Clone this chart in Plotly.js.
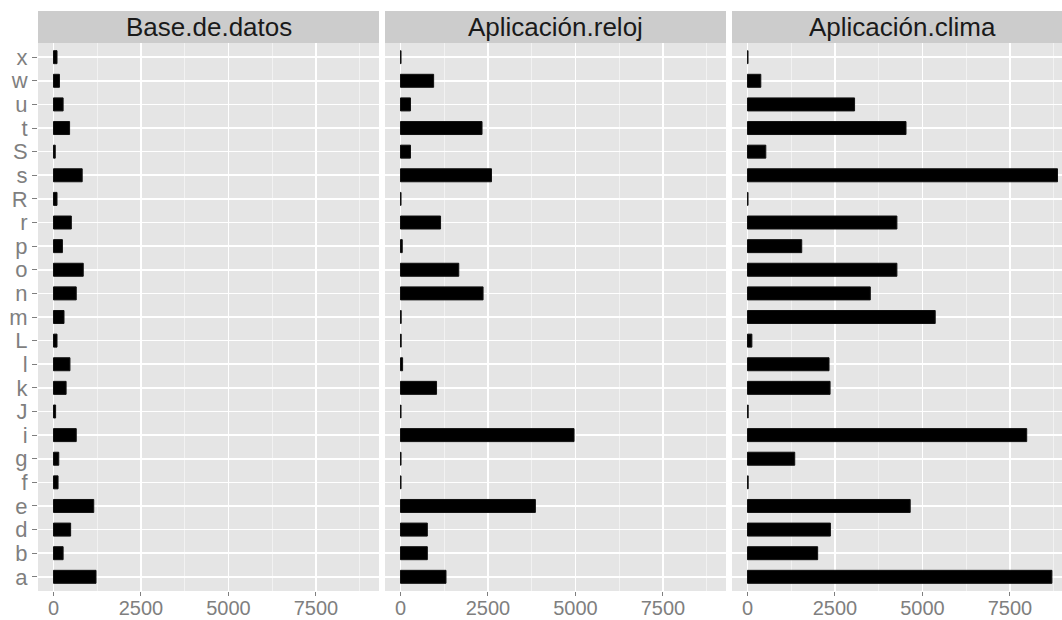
<!DOCTYPE html>
<html>
<head>
<meta charset="utf-8">
<script src="https://cdn.plot.ly/plotly-3.0.1.min.js"></script>
<style>html,body{margin:0;padding:0;background:#fff;overflow:hidden;}</style>
</head>
<body>
<div id="chart" style="width:1062px;height:620px;"></div>
<script>
const categories = ['a','b','d','e','f','g','i','J','k','l','L','m','n','o','p','r','R','s','S','t','u','w','x'];
const panelTitles = ['Base.de.datos', 'Aplicación.reloj', 'Aplicación.clima'];
const baseDeDatos = [1215, 275, 490, 1150, 130, 150, 650, 60, 360, 470, 100, 300, 650, 850, 255, 510, 100, 820, 50, 460, 275, 170, 100];
const aplicacionReloj = [1300, 767, 767, 3855, 15, 15, 4960, 15, 1030, 60, 20, 20, 2360, 1665, 50, 1145, 15, 2600, 285, 2330, 285, 947, 15];
const aplicacionClima = [8700, 2005, 2370, 4650, 20, 1350, 7980, 20, 2360, 2330, 125, 5365, 3510, 4270, 1550, 4270, 15, 8860, 523, 4530, 3060, 380, 15];
const xTicks = [0, 2500, 5000, 7500];
const xMinor = [1250, 3750, 6250, 8750];

const series = [baseDeDatos, aplicacionReloj, aplicacionClima];
const FONT = 'Liberation Sans, Arial, sans-serif';
const GREY = '#7f7f7f';

const traces = series.map((vals, i) => ({
  type: 'bar',
  orientation: 'h',
  x: vals,
  y: categories,
  xaxis: i === 0 ? 'x' : 'x' + (i + 1),
  yaxis: i === 0 ? 'y' : 'y' + (i + 1),
  width: 0.55,
  marker: { color: '#000000', line: { color: '#111111', width: 1 } },
  hoverinfo: 'x+y',
  showlegend: false
}));

const W = 1024; // plot-area width in px (1062 - left margin 38)
const domains = [[0, 341 / W], [347 / W, 688 / W], [694 / W, 1]];
const ranges = [[-443, 9303], [-443, 9303], [-443, -443 + (W - 694) * (9746 / 341)]];

function xAxis(i) {
  return {
    domain: domains[i],
    range: ranges[i],
    anchor: i === 0 ? 'y' : 'y' + (i + 1),
    tickmode: 'array',
    tickvals: xTicks,
    ticktext: xTicks.map(String),
    ticks: 'outside',
    ticklen: 4,
    tickwidth: 1,
    tickcolor: GREY,
    ticklabelstandoff: -5,
    tickfont: { family: FONT, size: 20, color: GREY },
    showgrid: true,
    gridcolor: '#ffffff',
    gridwidth: 1.6,
    zeroline: false,
    showline: false,
    minor: { tickmode: 'array', tickvals: xMinor, showgrid: true, gridcolor: '#f2f2f2', gridwidth: 1, ticks: '' },
    fixedrange: true
  };
}
function yAxis(i) {
  const ax = {
    type: 'category',
    categoryorder: 'array',
    categoryarray: categories,
    tickmode: 'array',
    tickvals: categories,
    ticktext: categories,
    range: [-0.6, categories.length - 0.4],
    anchor: i === 0 ? 'x' : 'x' + (i + 1),
    showgrid: true,
    gridcolor: '#ffffff',
    gridwidth: 1.6,
    zeroline: false,
    showline: false,
    fixedrange: true
  };
  if (i === 0) {
    ax.ticks = 'outside';
    ax.ticklen = 5;
    ax.tickwidth = 1;
    ax.tickcolor = GREY;
    ax.tickfont = { family: FONT, size: 22, color: GREY };
  } else {
    ax.matches = 'y';
    ax.showticklabels = false;
    ax.ticks = '';
  }
  return ax;
}

const stripTop = 1 + 32 / 548;
const layout = {
  width: 1062,
  height: 620,
  margin: { l: 38, r: 0, t: 43, b: 29, pad: 0 },
  paper_bgcolor: '#ffffff',
  plot_bgcolor: '#e5e5e5',
  bargap: 0,
  showlegend: false,
  shapes: domains.map(d => ({
    type: 'rect', xref: 'paper', yref: 'paper',
    x0: d[0], x1: d[1], y0: 1, y1: stripTop,
    fillcolor: '#cccccc', line: { width: 0 }, layer: 'below'
  })),
  annotations: domains.map((d, i) => ({
    xref: 'paper', yref: 'paper',
    x: i === 2 ? (694 + 341 / 2) / W : (d[0] + d[1]) / 2,
    y: (1 + stripTop) / 2,
    xanchor: 'center', yanchor: 'middle',
    text: panelTitles[i],
    showarrow: false,
    font: { family: FONT, size: 26, color: '#1a1a1a' }
  }))
};
for (let i = 0; i < 3; i++) {
  layout[i === 0 ? 'xaxis' : 'xaxis' + (i + 1)] = xAxis(i);
  layout[i === 0 ? 'yaxis' : 'yaxis' + (i + 1)] = yAxis(i);
}

Plotly.newPlot('chart', traces, layout, { displayModeBar: false, staticPlot: true });
</script>
</body>
</html>
